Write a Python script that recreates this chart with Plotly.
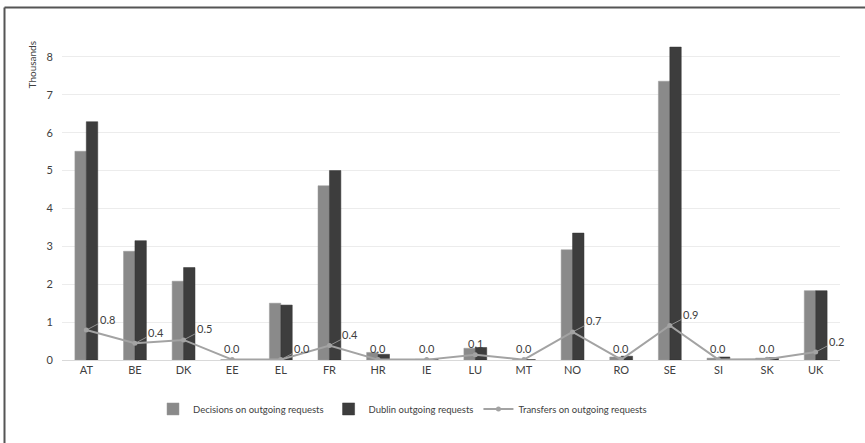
import plotly.graph_objects as go

# Member states
countries = ["AT", "BE", "DK", "EE", "EL", "FR", "HR", "IE", "LU", "MT",
             "NO", "RO", "SE", "SI", "SK", "UK"]

# Values in thousands
decisions = [5.51, 2.87, 2.08, 0.01, 1.50, 4.60, 0.20, 0.02, 0.31, 0.01,
             2.91, 0.08, 7.36, 0.05, 0.05, 1.83]
dublin = [6.29, 3.15, 2.44, 0.01, 1.45, 5.00, 0.15, 0.02, 0.33, 0.01,
          3.35, 0.10, 8.26, 0.08, 0.06, 1.83]
transfers = [0.79, 0.44, 0.53, 0.01, 0.01, 0.38, 0.01, 0.01, 0.14, 0.01,
             0.74, 0.01, 0.91, 0.01, 0.02, 0.21]

# Which transfer labels are pulled aside with a leader line
leader = [True, True, True, False, True, True, False, False, False, False,
          True, False, True, False, False, True]

FONT = "Lato"
TXT = "#404040"

fig = go.Figure()
fig.add_trace(go.Bar(
    x=countries, y=decisions, name="Decisions on outgoing requests",
    marker=dict(color="#8a8a8a", line=dict(color="#9a9a9a", width=0.5)),
))
fig.add_trace(go.Bar(
    x=countries, y=dublin, name="Dublin outgoing requests",
    marker=dict(color="#3d3d3d", line=dict(color="#333333", width=0.5)),
))
fig.add_trace(go.Scatter(
    x=countries, y=transfers, name="Transfers on outgoing requests",
    mode="lines+markers",
    line=dict(color="#a3a3a3", width=2),
    marker=dict(color="#a3a3a3", size=5),
))

annotations = []
for c, v, lead in zip(countries, transfers, leader):
    txt = f"{v:.1f}"
    if lead:
        annotations.append(dict(
            x=c, y=v, xref="x", yref="y", text=txt, showarrow=True,
            arrowhead=0, arrowwidth=0.8, arrowcolor="#a6a6a6",
            ax=21, ay=-11, standoff=0, startstandoff=0,
            font=dict(family=FONT, size=11, color=TXT),
        ))
    else:
        annotations.append(dict(
            x=c, y=v, xref="x", yref="y", text=txt, showarrow=False,
            yshift=11, font=dict(family=FONT, size=11, color=TXT),
        ))

# Axis title sitting at the top of the value axis
annotations.append(dict(
    x=-0.0385, y=0.915, xref="paper", yref="paper", text="Thousands",
    textangle=-90, showarrow=False, xanchor="center", yanchor="middle",
    font=dict(family=FONT, size=10, color=TXT),
))

# Frame: left and top edges of the chart border
bx0 = (4.5 - 62) / 778
by1 = (360 - 7.5) / 322
frame_line = dict(color="#555555", width=2)
shapes = [
    dict(type="line", xref="paper", yref="paper", x0=bx0, x1=bx0,
         y0=(360 - 500) / 322, y1=by1, line=frame_line, layer="below"),
    dict(type="line", xref="paper", yref="paper", x0=bx0,
         x1=(950 - 62) / 778, y0=by1, y1=by1, line=frame_line,
         layer="below"),
]

fig.update_layout(
    width=865, height=443,
    margin=dict(l=62, r=25, t=38, b=83),
    paper_bgcolor="white", plot_bgcolor="white",
    barmode="group", bargap=0.53, bargroupgap=0,
    font=dict(family=FONT, size=11, color=TXT),
    showlegend=True,
    legend=dict(
        orientation="h", x=(153 - 62) / 778, y=-0.152,
        xanchor="left", yanchor="middle",
        font=dict(family=FONT, size=9.5, color=TXT),
        traceorder="normal", itemwidth=30,
    ),
    xaxis=dict(
        range=[-0.5, len(countries) - 0.5],
        showgrid=False, showline=True, linecolor="#d9d9d9", linewidth=1,
        ticks="", tickfont=dict(size=11, color=TXT),
    ),
    yaxis=dict(
        range=[0, 8.5], dtick=1, tick0=0, showgrid=True,
        gridcolor="#ececec", gridwidth=1, zeroline=False,
        showline=False, ticks="", ticklabelstandoff=8,
        tickfont=dict(size=11, color=TXT),
    ),
    annotations=annotations,
    shapes=shapes,
)

fig.write_html("out.html")
